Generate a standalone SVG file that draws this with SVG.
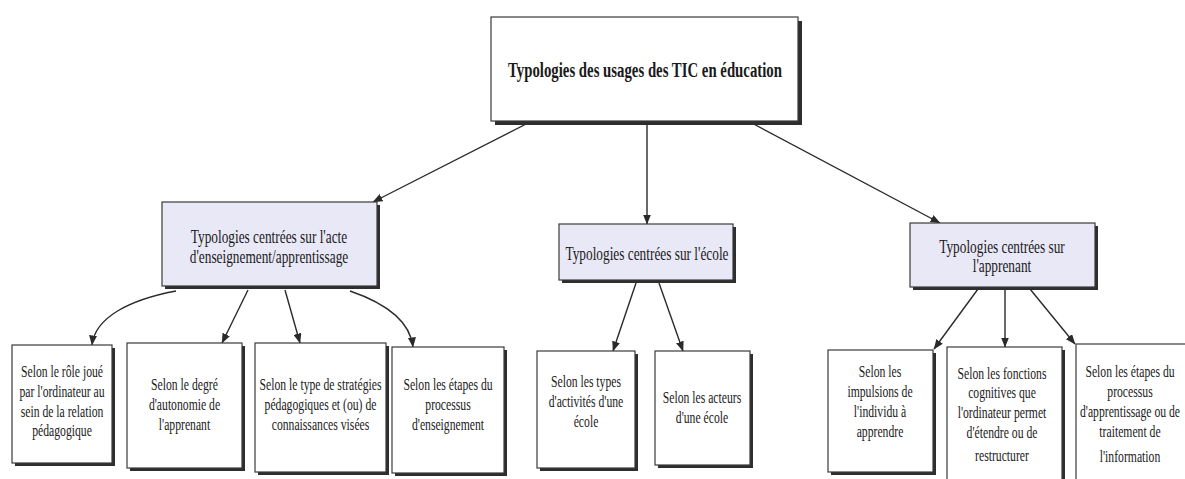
<svg xmlns="http://www.w3.org/2000/svg" width="1185" height="479" viewBox="0 0 1185 479">
<style>
.bg{fill:#ffffff}
.box{fill:#ffffff;stroke:#3a3a3a;stroke-width:1.2}
.mid{fill:#e9e8f6;stroke:#3a3a3a;stroke-width:1.2}
.sh{fill:#2e2e2e}
text{font-family:"Liberation Serif","Times New Roman",serif;fill:#1a1a1a;text-anchor:middle}
.t0{font-size:20px;font-weight:bold}
.t1{font-size:18px}
.t2{font-size:16px}
.conn{fill:none;stroke:#2a2a2a;stroke-width:1.4}
</style>
<defs>
<marker id="ah" viewBox="0 0 10 8" refX="9.5" refY="4" markerWidth="10" markerHeight="8" markerUnits="userSpaceOnUse" orient="auto">
<path d="M0,0 L10,4 L0,8 Z" fill="#2a2a2a"/>
</marker>
</defs>
<rect class="bg" x="0" y="0" width="1185" height="479"/>

<g id="connectors">
<line class="conn" x1="532" y1="121" x2="373" y2="202" marker-end="url(#ah)"/>
<line class="conn" x1="647" y1="121" x2="647" y2="224" marker-end="url(#ah)"/>
<line class="conn" x1="748" y1="121" x2="940" y2="223" marker-end="url(#ah)"/>
<path class="conn" d="M176,291 C128,300 95,318 92,345" marker-end="url(#ah)"/>
<line class="conn" x1="248" y1="290" x2="222" y2="343" marker-end="url(#ah)"/>
<line class="conn" x1="285" y1="290" x2="300" y2="343" marker-end="url(#ah)"/>
<path class="conn" d="M350,291 C385,303 410,320 413,347" marker-end="url(#ah)"/>
<line class="conn" x1="636" y1="283" x2="613" y2="351" marker-end="url(#ah)"/>
<line class="conn" x1="659" y1="283" x2="683" y2="351" marker-end="url(#ah)"/>
<line class="conn" x1="978" y1="289" x2="934" y2="349" marker-end="url(#ah)"/>
<line class="conn" x1="1005" y1="289" x2="1005" y2="347" marker-end="url(#ah)"/>
<line class="conn" x1="1030" y1="289" x2="1075" y2="344" marker-end="url(#ah)"/>
</g>

<g id="root">
<rect class="sh" x="495" y="21" width="307" height="104"/>
<rect class="box" x="491" y="17" width="307" height="104"/>
<text class="t0" transform="translate(645 77) scale(0.74 1)" x="0" y="0">Typologies des usages des TIC en éducation</text>
</g>

<g id="acte">
<rect class="sh" x="165" y="205" width="215" height="84"/>
<rect class="mid" x="162" y="202" width="215" height="84"/>
<text class="t1" transform="translate(269 243) scale(0.74 1)"><tspan x="0" y="0">Typologies centrées sur l'acte</tspan><tspan x="0" y="20">d'enseignement/apprentissage</tspan></text>
</g>

<g id="ecole">
<rect class="sh" x="562" y="227" width="174" height="56"/>
<rect class="mid" x="559" y="224" width="174" height="56"/>
<text class="t1" transform="translate(647 260) scale(0.74 1)" x="0" y="0">Typologies centrées sur l'école</text>
</g>

<g id="apprenant">
<rect class="sh" x="913" y="226" width="185" height="64"/>
<rect class="mid" x="910" y="223" width="185" height="64"/>
<text class="t1" transform="translate(1002 253) scale(0.74 1)"><tspan x="0" y="0">Typologies centrées sur</tspan><tspan x="0" y="19">l'apprenant</tspan></text>
</g>

<g id="b1">
<rect class="sh" x="15" y="348" width="100" height="118"/>
<rect class="box" x="12" y="345" width="100" height="118"/>
<text class="t2" transform="translate(62 377) scale(0.73 1)"><tspan x="0" y="0">Selon le rôle joué</tspan><tspan x="0" y="20">par l'ordinateur au</tspan><tspan x="0" y="40">sein de la relation</tspan><tspan x="0" y="59">pédagogique</tspan></text>
</g>

<g id="b2">
<rect class="sh" x="130" y="346" width="115" height="125"/>
<rect class="box" x="127" y="343" width="115" height="125"/>
<text class="t2" transform="translate(184.5 390) scale(0.73 1)"><tspan x="0" y="0">Selon le degré</tspan><tspan x="0" y="20">d'autonomie de</tspan><tspan x="0" y="40">l'apprenant</tspan></text>
</g>

<g id="b3">
<rect class="sh" x="258" y="346" width="131" height="129"/>
<rect class="box" x="255" y="343" width="131" height="129"/>
<text class="t2" transform="translate(320.5 390) scale(0.73 1)"><tspan x="0" y="0">Selon le type de stratégies</tspan><tspan x="0" y="20">pédagogiques et (ou) de</tspan><tspan x="0" y="40">connaissances visées</tspan></text>
</g>

<g id="b4">
<rect class="sh" x="395" y="350" width="112" height="126"/>
<rect class="box" x="392" y="347" width="112" height="126"/>
<text class="t2" transform="translate(448 390) scale(0.73 1)"><tspan x="0" y="0">Selon les étapes du</tspan><tspan x="0" y="20">processus</tspan><tspan x="0" y="40">d'enseignement</tspan></text>
</g>

<g id="b5">
<rect class="sh" x="540" y="354" width="98" height="117"/>
<rect class="box" x="537" y="351" width="98" height="117"/>
<text class="t2" transform="translate(586 387) scale(0.73 1)"><tspan x="0" y="0">Selon les types</tspan><tspan x="0" y="20">d'activités d'une</tspan><tspan x="0" y="40">école</tspan></text>
</g>

<g id="b6">
<rect class="sh" x="658" y="354" width="95" height="114"/>
<rect class="box" x="655" y="351" width="95" height="114"/>
<text class="t2" transform="translate(702 403) scale(0.73 1)"><tspan x="0" y="0">Selon les acteurs</tspan><tspan x="0" y="20">d'une école</tspan></text>
</g>

<g id="b7">
<rect class="sh" x="831" y="353" width="105" height="122"/>
<rect class="box" x="828" y="350" width="105" height="122"/>
<text class="t2" transform="translate(880 377) scale(0.73 1)"><tspan x="0" y="0">Selon les</tspan><tspan x="0" y="20">impulsions de</tspan><tspan x="0" y="40">l'individu à</tspan><tspan x="0" y="60">apprendre</tspan></text>
</g>

<g id="b8">
<rect class="sh" x="950" y="350" width="115" height="140"/>
<rect class="box" x="947" y="347" width="115" height="140"/>
<text class="t2" transform="translate(1002 379) scale(0.73 1)"><tspan x="0" y="0">Selon les fonctions</tspan><tspan x="0" y="19">cognitives que</tspan><tspan x="0" y="39">l'ordinateur permet</tspan><tspan x="0" y="59">d'étendre ou de</tspan><tspan x="0" y="82">restructurer</tspan></text>
</g>

<g id="b9">
<rect class="sh" x="1079" y="347" width="120" height="140"/>
<rect class="box" x="1076" y="344" width="120" height="140"/>
<text class="t2" transform="translate(1130 377) scale(0.73 1)"><tspan x="0" y="0">Selon les étapes du</tspan><tspan x="0" y="20">processus</tspan><tspan x="0" y="40">d'apprentissage ou de</tspan><tspan x="0" y="60">traitement de</tspan><tspan x="0" y="85">l'information</tspan></text>
</g>
</svg>
